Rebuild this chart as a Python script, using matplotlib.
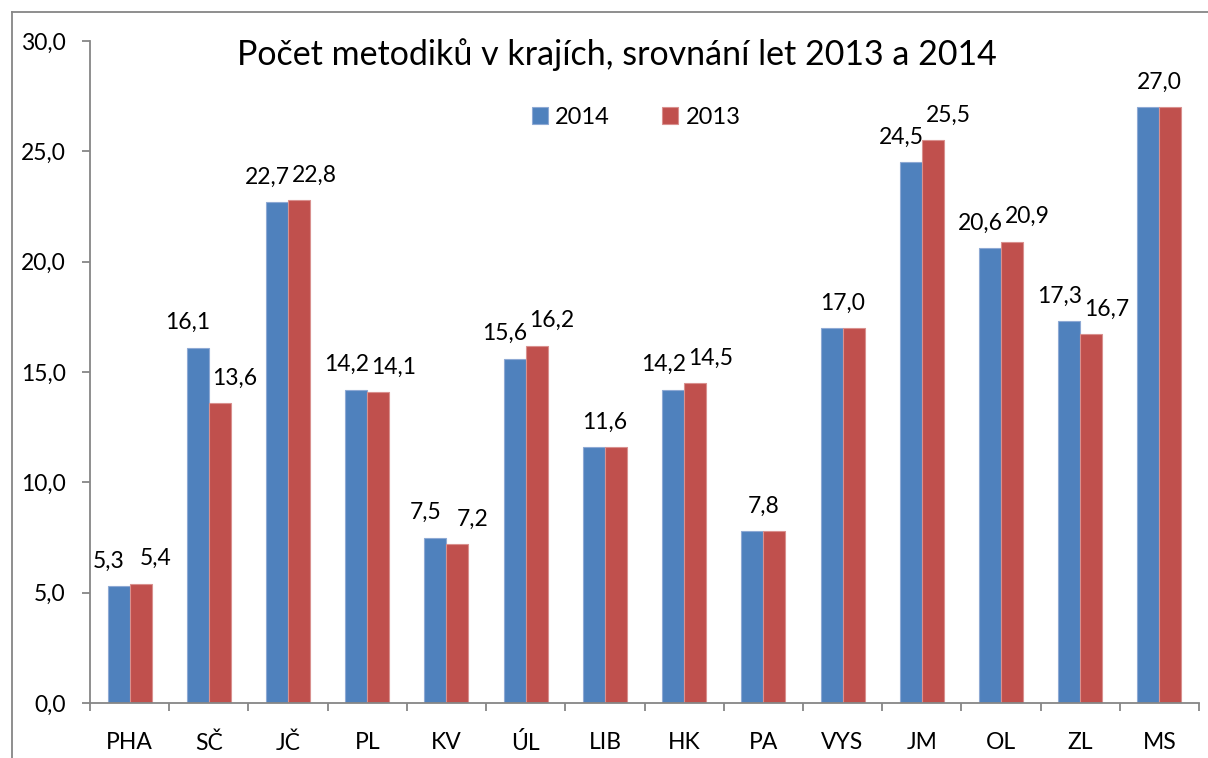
import matplotlib
matplotlib.use("Agg")
import matplotlib.pyplot as plt
from matplotlib.lines import Line2D
from matplotlib.ticker import FuncFormatter, MultipleLocator
import numpy as np

plt.rcParams['font.family'] = ['Lato', 'DejaVu Sans']

categories = ["PHA", "SČ", "JČ", "PL", "KV", "ÚL", "LIB", "HK", "PA", "VYS", "JM", "OL", "ZL", "MS"]
values_2014 = [5.3, 16.1, 22.7, 14.2, 7.5, 15.6, 11.6, 14.2, 7.8, 17.0, 24.5, 20.6, 17.3, 27.0]
values_2013 = [5.4, 13.6, 22.8, 14.1, 7.2, 16.2, 11.6, 14.5, 7.8, 17.0, 25.5, 20.9, 16.7, 27.0]
series_names = ["2014", "2013"]
title = "Počet metodiků v krajích, srovnání let 2013 a 2014"

blue = "#4F81BD"
red = "#C0504D"
axis_gray = "#868686"

W, H = 1208, 758
fig = plt.figure(figsize=(W / 100, H / 100), dpi=100)
ax = fig.add_axes([90 / W, 1 - 703 / H, (1199 - 90) / W, (703 - 41) / H])

x = np.arange(len(categories))
bw = 0.278
b1 = ax.bar(x - bw / 2, values_2014, bw, color=blue, edgecolor="#8EA9D4", linewidth=0.8, label=series_names[0], zorder=2)
b2 = ax.bar(x + bw / 2, values_2013, bw, color=red, edgecolor="#D9908E", linewidth=0.8, label=series_names[1], zorder=2)

ax.set_xlim(-0.5, len(categories) - 0.5)
ax.set_ylim(0, 30)
ax.yaxis.set_major_locator(MultipleLocator(5))
ax.yaxis.set_major_formatter(FuncFormatter(lambda v, p: f"{v:.1f}".replace(".", ",")))

ax.set_xticks(x)
ax.set_xticklabels(categories)
ax.set_xticks(np.arange(len(categories) + 1) - 0.5, minor=True)
ax.tick_params(axis="x", which="major", length=0, pad=21, labelsize=16.5)
ax.tick_params(axis="x", which="minor", length=5.5, width=1.3, color=axis_gray, direction="out")
ax.tick_params(axis="y", length=5.5, width=1.3, color=axis_gray, pad=12, labelsize=16.5)

for s in ["top", "right"]:
    ax.spines[s].set_visible(False)
for s in ["left", "bottom"]:
    ax.spines[s].set_color(axis_gray)
    ax.spines[s].set_linewidth(1.3)

fmt = lambda v: f"{v:.1f}".replace(".", ",")
lab_fs = 16.5
for i, (a, b) in enumerate(zip(values_2014, values_2013)):
    if a == b:
        ax.annotate(fmt(a), (x[i], max(a, b)), xytext=(0, 18), textcoords="offset points",
                    ha="center", va="center", fontsize=lab_fs)
    else:
        ax.annotate(fmt(a), (x[i] - bw / 2, a), xytext=(-7, 18), textcoords="offset points",
                    ha="center", va="center", fontsize=lab_fs)
        ax.annotate(fmt(b), (x[i] + bw / 2, b), xytext=(11, 18), textcoords="offset points",
                    ha="center", va="center", fontsize=lab_fs)

fig.text(617 / W, 1 - 55 / H, title, ha="center", va="center", fontsize=24.5)

fig.legend(handles=[b1, b2], labels=series_names, loc="center", bbox_to_anchor=(636 / W, 1 - 117 / H),
           ncol=2, frameon=False, fontsize=17, handlelength=0.7, handleheight=0.7,
           handletextpad=0.3, columnspacing=2.2)

# chart area border (top and left edges visible)
fig.add_artist(Line2D([12 / W, 12 / W], [0, 1 - 12 / H], transform=fig.transFigure, color=axis_gray, linewidth=1.3))
fig.add_artist(Line2D([12 / W, 1], [1 - 12 / H, 1 - 12 / H], transform=fig.transFigure, color=axis_gray, linewidth=1.3))

fig.savefig("out.png", dpi=100, facecolor="white")
